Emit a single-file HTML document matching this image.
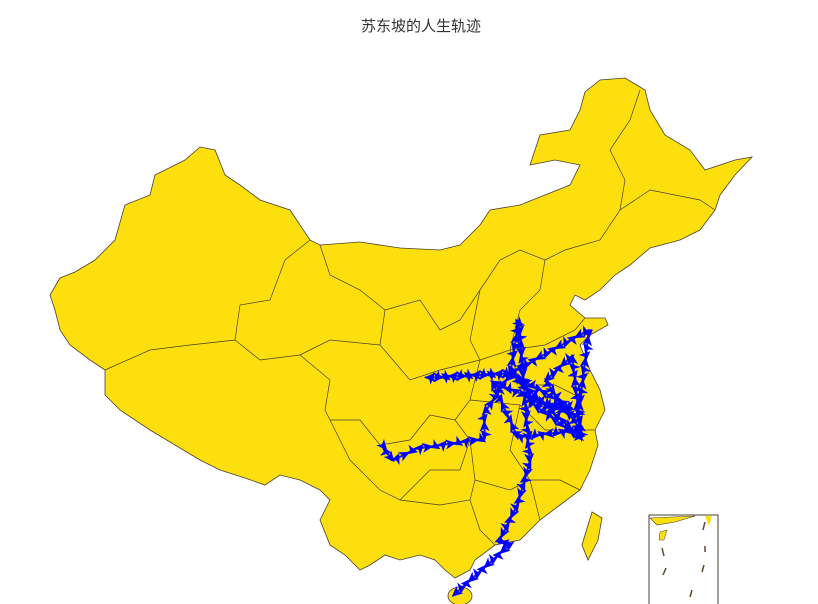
<!DOCTYPE html>
<html><head><meta charset="utf-8">
<style>
html,body{margin:0;padding:0;background:#fff;}
#wrap{position:relative;width:818px;height:604px;overflow:hidden;}
#title{position:absolute;top:15px;left:12px;width:818px;text-align:center;font:15px "Liberation Sans","Noto Sans CJK SC",sans-serif;color:#333;}
</style></head>
<body>
<div id="wrap">
<div id="title">苏东坡的人生轨迹</div>
<svg id="svg" width="818" height="604" style="position:absolute;left:0;top:0">
<polygon fill="#fddf0d" stroke="#4a4030" stroke-width="0.8" points="50,295 60,278 75,272 95,260 115,240 125,205 150,195 155,175 185,160 200,147 215,150 225,175 240,185 260,200 290,210 310,240 320,245 360,242 400,248 440,250 460,245 480,225 490,210 520,205 545,195 570,185 580,165 555,160 530,165 540,135 570,130 580,110 585,92 600,80 625,78 645,90 650,110 665,135 690,150 705,170 735,160 752,157 735,175 720,195 715,210 700,230 680,240 650,248 630,265 615,275 600,290 585,300 575,295 570,305 585,318 605,318 608,325 590,335 580,345 590,370 600,390 605,410 595,430 598,445 590,470 580,490 560,505 540,520 520,540 495,545 475,560 470,570 455,578 445,570 435,560 420,555 400,560 385,555 370,565 360,570 345,555 330,545 320,520 330,500 320,490 300,480 280,475 265,485 245,478 220,470 200,460 175,445 150,430 120,410 105,395 105,370 90,360 70,345 60,330 55,310"/>
<g fill="none" stroke="#4a4030" stroke-width="0.7">
<polyline points="105,370 150,350 190,345 235,340 240,305 270,300 285,260 310,240"/>
<polyline points="235,340 260,360 300,355 330,340 380,345 385,310 360,290 330,275 320,245"/>
<polyline points="300,355 330,380 325,410 350,460 360,470 380,490 400,500 430,470 460,470 470,440 455,420 430,415 410,440 380,445 360,420 330,420"/>
<polyline points="385,310 420,300 440,330 460,320 480,290 500,260 520,250 545,260 540,290 520,310 510,350 480,360 440,370 410,380 380,345"/>
<polyline points="480,290 470,340 480,360"/>
<polyline points="510,350 545,345 575,330 585,318"/>
<polyline points="545,260 565,250 600,240 620,210 650,190 700,200 715,210"/>
<polyline points="620,210 625,180 610,150 630,120 640,90"/>
<polyline points="510,350 520,385 555,385 575,395 590,370"/>
<polyline points="480,360 470,400 455,420"/>
<polyline points="470,400 520,405 545,430 580,430 595,430"/>
<polyline points="520,405 510,450 530,480 560,480 580,490"/>
<polyline points="470,440 475,480 470,500 440,505 400,500"/>
<polyline points="475,480 510,490 530,480 540,520"/>
<polyline points="470,500 480,530 495,545"/>
</g>
<polygon fill="#fddf0d" stroke="#4a4030" stroke-width="0.8" points="592,512 602,518 598,540 588,560 582,545"/>
<ellipse cx="460" cy="596" rx="12" ry="9" fill="#fddf0d" stroke="#4a4030" stroke-width="0.8"/>
<g>
<rect x="649" y="515" width="69" height="100" fill="none" stroke="#4a4030" stroke-width="1"/>
<polygon points="650,518 657,525 675,522 695,516" fill="#fddf0d" stroke="#4a4030" stroke-width="0.6"/>
<polygon points="705,516 712,516 709,526" fill="#fddf0d"/>
<polygon points="660,532 667,530 664,540 659,540" fill="#fddf0d" stroke="#4a4030" stroke-width="0.5"/>
<g stroke="#5a4a30" stroke-width="1.5"><line x1="662" y1="548" x2="664" y2="556"/><line x1="666" y1="568" x2="663" y2="575"/><line x1="705" y1="522" x2="703" y2="530"/><line x1="705" y1="546" x2="705" y2="552"/><line x1="704" y1="565" x2="702" y2="572"/><line x1="692" y1="590" x2="690" y2="597"/></g>
</g>
<g id="routes"></g>
</svg>
</div>
<script>
const cityNames=["Meishan","Chengdu","Leshan","Yibin","Chongqing","Jiangling","Xiangyang","Kaifeng","Fengxiang","Hangzhou","Mizhou","Xuzhou","Huzhou","Huangzhou","Ruzhou","Changzhou","Dengzhou","Yingzhou","Yangzhou","Dingzhou","Nanchang","Qianzhou","Guangzhou","Huizhou","Danzhou"];
const cityLon=[103.8,104.1,103.8,104.6,106.5,112.2,112.1,114.3,107.4,120.2,119.4,117.2,120.1,114.9,112.8,119.9,120.8,115.8,119.4,115.0,115.9,114.9,113.3,114.4,109.6];
const cityLat=[30.0,30.7,29.6,28.8,29.6,30.3,32.0,34.8,34.5,30.3,36.0,34.3,30.9,30.4,34.2,31.8,37.8,32.9,32.4,38.5,28.7,25.8,23.1,23.1,19.5];
const routeOrder=[0,2,3,4,5,6,7,8,7,9,10,11,12,13,14,15,16,7,9,17,18,7,19,20,21,22,23,24];
function xScale(lon){return 462+(lon-110.3)*12.1;}
function yScale(lat){return 588-(lat-20)*14.5;}
const NS="http://www.w3.org/2000/svg";
const g=document.getElementById('routes');
for(let i=0;i<routeOrder.length-1;i++){
  const a=routeOrder[i],b=routeOrder[i+1];
  const x1=xScale(cityLon[a]),y1=yScale(cityLat[a]),x2=xScale(cityLon[b]),y2=yScale(cityLat[b]);
  const l=document.createElementNS(NS,'line');
  
  
  l.setAttribute('x1',x1);l.setAttribute('y1',y1);l.setAttribute('x2',x2);l.setAttribute('y2',y2);
  l.setAttribute('stroke','#1a1aff');l.setAttribute('stroke-width','2');
  g.appendChild(l);
  const len=Math.hypot(x2-x1,y2-y1);const ang=Math.atan2(y2-y1,x2-x1)*180/Math.PI;
  const n=Math.max(1,Math.floor(len/7));
  for(let k=0;k<n;k++){
    const t=(k+0.5)/n;const px=x1+(x2-x1)*t,py=y1+(y2-y1)*t;
    const p=document.createElementNS(NS,'polygon');
    
    
    p.setAttribute('points','6,0 -5,-5 -2,0 -5,5');
    p.setAttribute('fill','#0000ff');
    p.setAttribute('transform','translate('+px+','+py+') rotate('+(ang+(k%3-1)*40)+')');
    g.appendChild(p);
  }
}
</script>
</body></html>
